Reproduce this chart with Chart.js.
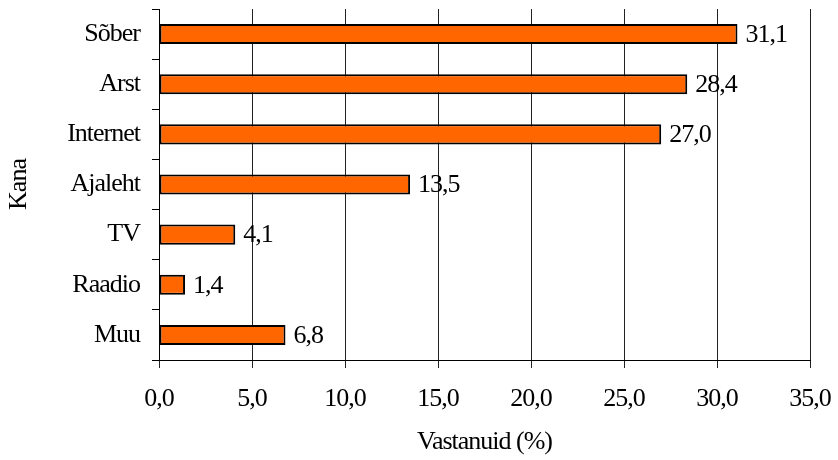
<!DOCTYPE html>
<html lang="et">
<head>
  <meta charset="UTF-8" />
  <title>Kana</title>
  <script src="https://cdn.jsdelivr.net/npm/chart.js"></script>
  <style>
    html, body { margin: 0; padding: 0; background: #fff; }
    #wrap { width: 838px; height: 460px; }
  </style>
</head>
<body>
  <div id="wrap"><canvas id="chart"></canvas></div>

  <script>
    const kanalid = ['Sõber', 'Arst', 'Internet', 'Ajaleht', 'TV', 'Raadio', 'Muu'];
    const vastanuid = [31.1, 28.4, 27.0, 13.5, 4.1, 1.4, 6.8];
    const xMin = 0;
    const xMax = 35;
    const xStep = 5;

    const FONT = { family: "'Liberation Serif', 'Times New Roman', serif", size: 26 };
    const SPACING = '-1px';

    // komaga kümnendmurd
    const fmt = v => v.toFixed(1).replace('.', ',');

    // tihedam tähevahe nagu Exceli graafikul
    const tightText = {
      id: 'tightText',
      beforeUpdate(chart) { chart.ctx.letterSpacing = SPACING; },
      beforeDraw(chart) { chart.ctx.letterSpacing = SPACING; }
    };

    // väärtused tulpade paremale
    const barValues = {
      id: 'barValues',
      afterDatasetsDraw(chart) {
        const ctx = chart.ctx;
        const meta = chart.getDatasetMeta(0);
        ctx.save();
        ctx.font = `${FONT.size}px ${FONT.family}`;
        ctx.fillStyle = '#000';
        ctx.textAlign = 'left';
        ctx.textBaseline = 'middle';
        meta.data.forEach((bar, i) => {
          ctx.fillText(fmt(vastanuid[i]), bar.x + 8, bar.y + 1);
        });
        ctx.restore();
      }
    };

    new Chart(document.getElementById('chart'), {
      type: 'bar',
      data: {
        labels: kanalid,
        datasets: [{
          data: vastanuid,
          backgroundColor: '#FF6600',
          borderColor: '#000',
          borderWidth: 2,
          borderSkipped: false,
          barPercentage: 0.4,
          categoryPercentage: 1.0
        }]
      },
      options: {
        indexAxis: 'y',
        responsive: true,
        maintainAspectRatio: false,
        animation: false,
        layout: { padding: { top: 9, right: 0, left: 4, bottom: 0 } },
        plugins: {
          legend: { display: false },
          tooltip: { enabled: false }
        },
        scales: {
          x: {
            min: xMin,
            max: xMax,
            afterFit: s => {
              s.height = 100;
              s.paddingLeft = 0;
              s.paddingRight = 28;
            },
            ticks: {
              stepSize: xStep,
              color: '#000',
              font: FONT,
              padding: 16,
              maxRotation: 0,
              callback: v => fmt(v)
            },
            grid: {
              color: '#222',
              lineWidth: 1,
              drawTicks: true,
              tickLength: 8
            },
            border: { display: true, color: '#000', width: 1 },
            title: {
              display: true,
              text: 'Vastanuid (%)',
              color: '#000',
              font: FONT,
              padding: { top: 6, bottom: 2 }
            }
          },
          y: {
            afterFit: s => {
              s.width = 155;
              s.paddingTop = 0;
              s.paddingBottom = 0;
            },
            ticks: {
              color: '#000',
              font: FONT,
              padding: 12
            },
            grid: {
              offset: true,
              drawOnChartArea: false,
              drawTicks: true,
              tickLength: 7,
              color: '#000'
            },
            border: { display: true, color: '#000', width: 1 },
            title: {
              display: true,
              text: 'Kana',
              color: '#000',
              font: FONT,
              padding: { top: 0, bottom: 4 }
            }
          }
        }
      },
      plugins: [tightText, barValues]
    });
  </script>
</body>
</html>
